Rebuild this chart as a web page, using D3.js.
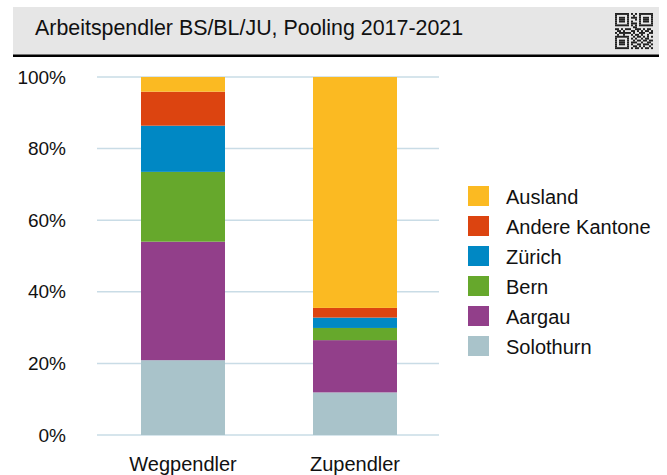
<!DOCTYPE html>
<html><head><meta charset="utf-8">
<script src="https://cdn.jsdelivr.net/npm/d3@7"></script>
<style>body{margin:0;background:#fff;font-family:"Liberation Sans",Arial,sans-serif;}</style>
</head><body>
<svg id="c" width="667" height="475"></svg>
<script>
const categories = ["Wegpendler", "Zupendler"];
const seriesNames = ["Solothurn", "Aargau", "Bern", "Zürich", "Andere Kantone", "Ausland"];
const solothurn = [20.9, 11.9];
const aargau = [33.1, 14.6];
const bern = [19.5, 3.4];
const zuerich = [12.9, 2.9];
const andere = [9.5, 2.7];
const ausland = [4.1, 64.5];
const yTicks = [0, 20, 40, 60, 80, 100];
const colors = ["#A9C3CA", "#923F8A", "#66A82C", "#0088C4", "#DC4410", "#FBBA22"];
const title = "Arbeitspendler BS/BL/JU, Pooling 2017-2021";

const seriesVals = [solothurn, aargau, bern, zuerich, andere, ausland];
const rows = categories.map((c, i) => {
  const o = {cat: c};
  seriesNames.forEach((s, j) => o[s] = seriesVals[j][i]);
  return o;
});

const svg = d3.select("#c");
// header
svg.append("rect").attr("x", 13).attr("y", 7).attr("width", 646).attr("height", 48).attr("fill", "#E6E6E6");
svg.append("rect").attr("x", 13).attr("y", 54.5).attr("width", 646).attr("height", 2.5).attr("fill", "#000");
svg.append("text").attr("x", 35).attr("y", 35).attr("font-size", 21.4).attr("fill", "#111").text(title);

// QR-like decoration
const qr = [
 "1111111010101111111",
 "1000001001001000001",
 "1011101011101011101",
 "1011101000101011101",
 "1011101010001011101",
 "1000001011101000001",
 "1111111010101111111",
 "0000000001100000000",
 "1101011100111010110",
 "0110100011010101101",
 "1011111101001110011",
 "0100100010110100100",
 "1111111001011010101",
 "1000001010100101100",
 "1011101001011011011",
 "1011101011100100110",
 "1011101010011011101",
 "1000001001101010010",
 "1111111010110101101"
];
const qg = svg.append("g").attr("transform", "translate(615,13)");
const cell = 2;
qr.forEach((r, i) => r.split("").forEach((v, j) => {
  if (v === "1") qg.append("rect").attr("x", j * cell).attr("y", i * cell * 0.95).attr("width", cell).attr("height", cell * 0.95).attr("fill", "#222");
}));

const y = d3.scaleLinear().domain([0, 100]).range([435, 77]);
const x = d3.scaleBand().domain(categories).range([141, 397]).paddingInner(88 / 172).paddingOuter(0);

// grid
svg.append("g").selectAll("line").data(yTicks).join("line")
  .attr("x1", 97).attr("x2", 439)
  .attr("y1", d => y(d)).attr("y2", d => y(d))
  .attr("stroke", "#C9DCE6").attr("stroke-width", 1.5);

const yAxis = svg.append("g").attr("transform", "translate(66,0)")
  .call(d3.axisLeft(y).tickValues(yTicks).tickSize(0).tickPadding(0).tickFormat(d => d + "%"));
yAxis.select(".domain").remove();
yAxis.selectAll("text").attr("font-size", 19).attr("fill", "#111").attr("font-family", "Liberation Sans, Arial, sans-serif");

const stack = d3.stack().keys(seriesNames)(rows);
svg.append("g").selectAll("g").data(stack).join("g")
  .attr("fill", (d, i) => colors[i])
  .selectAll("rect").data(d => d).join("rect")
  .attr("x", d => x(d.data.cat)).attr("width", x.bandwidth())
  .attr("y", d => y(d[1])).attr("height", d => y(d[0]) - y(d[1]));

const xAxis = svg.append("g").attr("transform", "translate(0,435)")
  .call(d3.axisBottom(x).tickSize(0).tickPadding(22));
xAxis.select(".domain").remove();
xAxis.selectAll("text").attr("font-size", 20).attr("fill", "#111").attr("font-family", "Liberation Sans, Arial, sans-serif");

// legend
const legendOrder = seriesNames.slice().reverse();
const lg = svg.append("g").attr("transform", "translate(468,186)");
legendOrder.forEach((s, i) => {
  const idx = seriesNames.indexOf(s);
  lg.append("rect").attr("x", 0).attr("y", i * 30).attr("width", 21).attr("height", 20).attr("fill", colors[idx]);
  lg.append("text").attr("x", 38).attr("y", i * 30 + 17.5).attr("font-size", 20).attr("fill", "#111").text(s);
});
</script>
</body></html>
